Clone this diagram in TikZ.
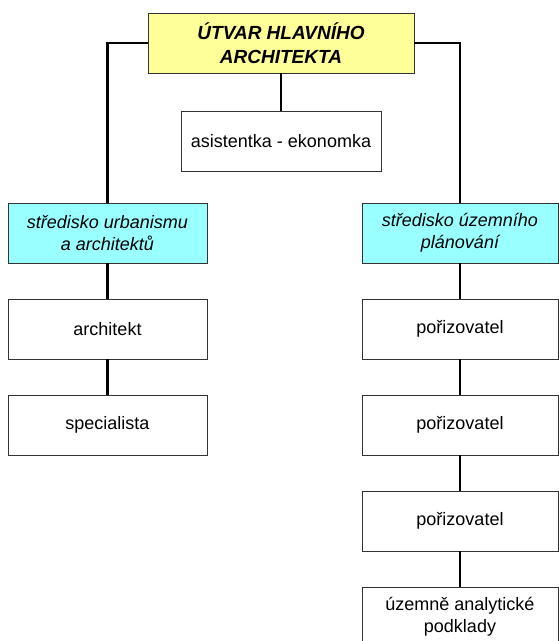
\documentclass[tikz,border=0pt]{standalone}
\usepackage{fontspec}
\setmainfont{Liberation Sans}
\definecolor{topyellow}{RGB}{255,255,153}
\definecolor{lightcyan}{RGB}{153,255,255}
\begin{document}
\begin{tikzpicture}[x=1pt,y=1pt,
  box/.style={draw=black!80, line width=0.9pt, fill=white, minimum height=60pt, align=center, inner sep=2pt, font=\fontsize{18}{22}\selectfont},
  topbox/.style={box, fill=topyellow, minimum width=266pt, font=\fontsize{19}{24}\selectfont\bfseries\itshape},
  midbox/.style={box, fill=lightcyan, font=\fontsize{18}{22}\selectfont\itshape},
  conn/.style={line width=2.8pt, black}]
\useasboundingbox (0,0) rectangle (559,-641);
\clip (0,0) rectangle (559,-641);
\node[topbox] (top) at (281,-43) {ÚTVAR HLAVNÍHO\\ARCHITEKTA};
\node[box, minimum width=200pt] (asist) at (281,-141) {asistentka - ekonomka};
\node[midbox, minimum width=199pt] (lc) at (107.5,-233) {středisko urbanismu\\a architektů};
\node[midbox, minimum width=196pt] (rc) at (460,-233) {středisko územního\\plánování};
\node[box, minimum width=199pt] (arch) at (107.5,-329) {architekt};
\node[box, minimum width=199pt] (spec) at (107.5,-425) {specialista};
\node[box, minimum width=196pt] (p1) at (460,-329) {pořizovatel};
\node[box, minimum width=196pt] (p2) at (460,-425) {pořizovatel};
\node[box, minimum width=196pt] (p3) at (460,-521) {pořizovatel};
\node[box, minimum width=196pt] (uap) at (460,-617) {územně analytické\\podklady};
\draw[conn] (top.south) -- (asist.north);
\draw[conn] (top.west) -| (lc.north);
\draw[conn] (top.east) -| (rc.north);
\draw[conn] (lc.south) -- (arch.north);
\draw[conn] (arch.south) -- (spec.north);
\draw[conn] (rc.south) -- (p1.north);
\draw[conn] (p1.south) -- (p2.north);
\draw[conn] (p2.south) -- (p3.north);
\draw[conn] (p3.south) -- (uap.north);
\end{tikzpicture}
\end{document}
